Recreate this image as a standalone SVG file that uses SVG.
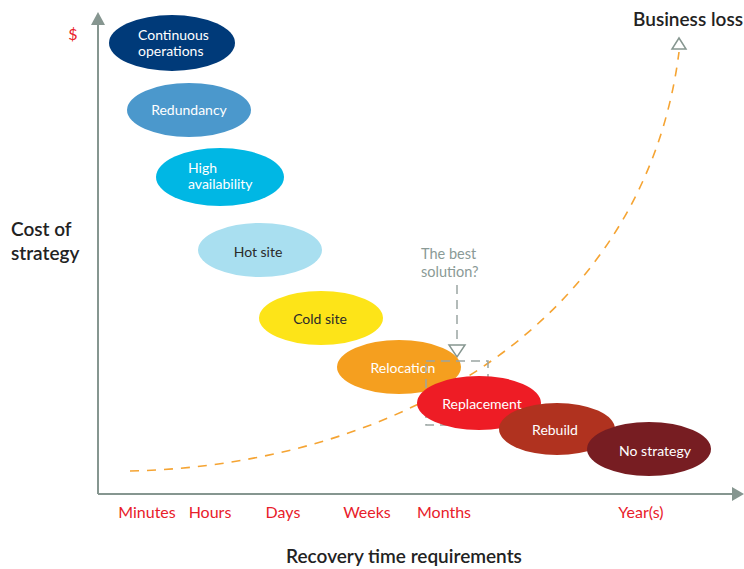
<svg xmlns="http://www.w3.org/2000/svg" width="744" height="569" viewBox="0 0 744 569">
  <style>
    text { font-family: Lato, "Open Sans", "Liberation Sans", sans-serif; }
    .lbl { font-size: 14px; fill: #ffffff; text-anchor: middle; }
    .lbl-l { font-size: 14px; fill: #ffffff; }
    .dark { fill: #2a2a2a; }
    .tick { font-size: 16px; fill: #e8202a; text-anchor: middle; }
    .title { font-size: 19px; fill: #222222; font-weight: 600; }
    .axis { stroke: #869690; stroke-width: 2; fill: none; }
    .guide { stroke: #9aa5a2; stroke-width: 1.5; fill: none; stroke-dasharray: 9 6; }
    .curve { stroke: #f5a433; stroke-width: 1.6; fill: none; stroke-dasharray: 9 8; }
    .hollow { fill: #ffffff; stroke: #869690; stroke-width: 1.5; }
  </style>
  <rect width="744" height="569" fill="#ffffff"/>

  <!-- axes -->
  <g id="axes">
    <line class="axis" x1="98" y1="494" x2="98" y2="22"/>
    <polygon points="98,12 91,25 105,25" fill="#869690"/>
    <line class="axis" x1="98" y1="494" x2="734" y2="494"/>
    <polygon points="744,494 732,487 732,501" fill="#869690"/>
  </g>

  <!-- cost curve and pointer -->
  <g id="connectors">
    <path class="curve" d="M130,471 C400,465 645,320 679,52"/>
    <polygon class="hollow" points="679,38 672,49 686,49"/>
    <line class="guide" x1="457" y1="285" x2="457" y2="345"/>
    <polygon class="hollow" points="449,345 465,345 457,357"/>
  </g>

  <!-- strategy nodes -->
  <g id="continuous-operations">
    <ellipse cx="172" cy="43" rx="63" ry="28" fill="#003a79"/>
    <text class="lbl-l" x="138" y="40">Continuous</text>
    <text class="lbl-l" x="138" y="56">operations</text>
  </g>
  <g id="redundancy">
    <ellipse cx="189" cy="110" rx="62" ry="27" fill="#4b98cc"/>
    <text class="lbl" x="189" y="115">Redundancy</text>
  </g>
  <g id="high-availability">
    <ellipse cx="220" cy="177" rx="64" ry="29" fill="#00b7e4"/>
    <text class="lbl-l" x="188" y="173">High</text>
    <text class="lbl-l" x="188" y="189">availability</text>
  </g>
  <g id="hot-site">
    <ellipse cx="260" cy="250" rx="62" ry="27" fill="#a9dff0"/>
    <text class="lbl dark" x="258" y="257">Hot site</text>
  </g>
  <g id="cold-site">
    <ellipse cx="321" cy="318" rx="62" ry="27" fill="#fde418"/>
    <text class="lbl dark" x="320" y="324">Cold site</text>
  </g>
  <g id="relocation">
    <ellipse cx="399" cy="367" rx="62" ry="27" fill="#f59f1f"/>
    <text class="lbl" x="403" y="373">Relocation</text>
  </g>
  <g id="best-solution-box">
    <rect class="guide" x="426" y="361" width="62" height="64"/>
  </g>
  <g id="replacement">
    <ellipse cx="479" cy="403" rx="62" ry="27" fill="#ee1c25"/>
    <text class="lbl" x="482" y="409">Replacement</text>
  </g>
  <g id="rebuild">
    <ellipse cx="557" cy="429" rx="58" ry="26" fill="#b0321f"/>
    <text class="lbl" x="555" y="435">Rebuild</text>
  </g>
  <g id="no-strategy">
    <ellipse cx="649" cy="449" rx="62" ry="27" fill="#771d22"/>
    <text class="lbl" x="655" y="456">No strategy</text>
  </g>

  <!-- annotations -->
  <g id="labels">
    <text x="73" y="40" font-size="16" fill="#e8202a" text-anchor="middle">$</text>
    <text class="title" x="11" y="236">Cost of</text>
    <text class="title" x="11" y="260">strategy</text>
    <text x="688" y="26" font-size="19" fill="#222222" font-weight="600" text-anchor="middle">Business loss</text>
    <text x="421" y="259" font-size="14.5" fill="#8a9a96">The best</text>
    <text x="421" y="277" font-size="14.5" fill="#8a9a96">solution?</text>
    <text class="tick" x="147" y="518">Minutes</text>
    <text class="tick" x="210" y="518">Hours</text>
    <text class="tick" x="283" y="518">Days</text>
    <text class="tick" x="367" y="518">Weeks</text>
    <text class="tick" x="444" y="518">Months</text>
    <text class="tick" x="641" y="518">Year(s)</text>
    <text class="title" x="404" y="563" text-anchor="middle">Recovery time requirements</text>
  </g>
</svg>
